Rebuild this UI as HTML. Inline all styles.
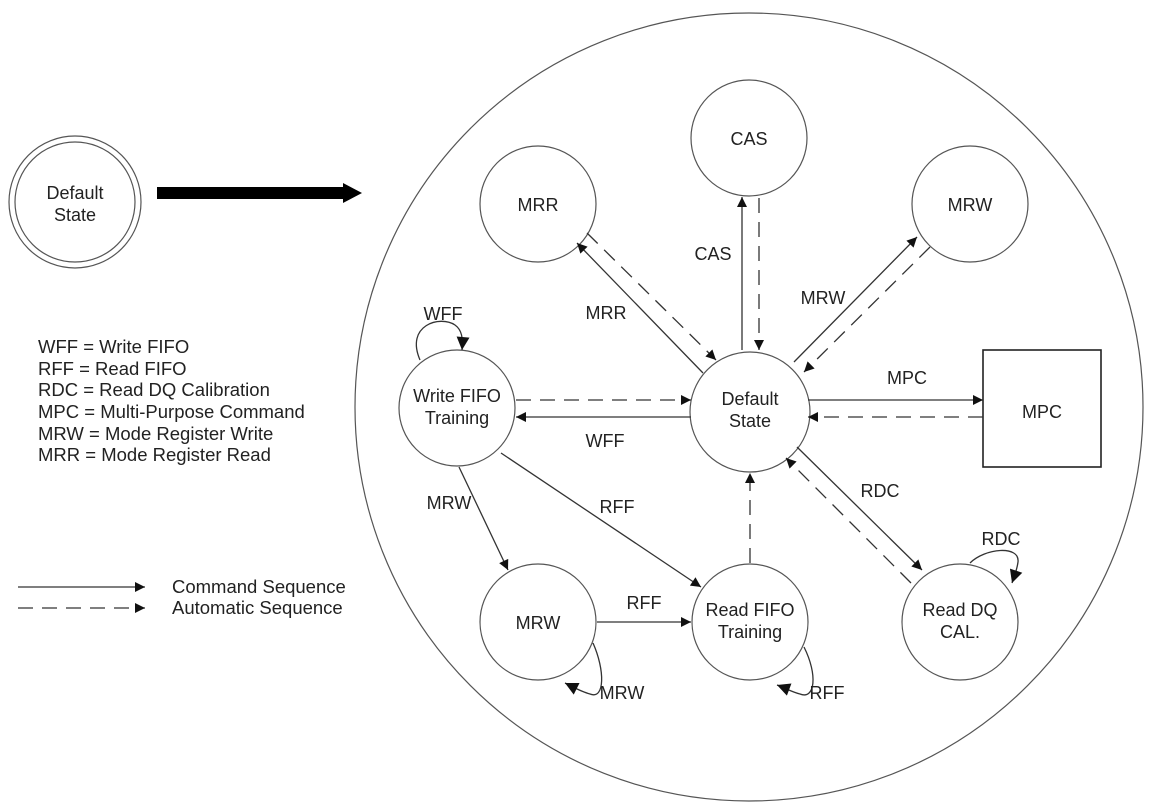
<!DOCTYPE html>
<html><head><meta charset="utf-8"><style>
html,body{margin:0;padding:0;background:#fff;}
svg{display:block;}
text{font-family:"Liberation Sans",Arial,sans-serif;font-size:18px;fill:#222;}
.lg{font-size:18.5px;}
</style></head><body>
<svg width="1153" height="809" viewBox="0 0 1153 809" xmlns="http://www.w3.org/2000/svg">
<defs>
<marker id="a" viewBox="0 0 10 10" refX="10" refY="5" markerWidth="11" markerHeight="10" markerUnits="userSpaceOnUse" orient="auto"><path d="M0,0 L10,5 L0,10 z" fill="#111"/></marker>
<marker id="b" viewBox="0 0 10 10" refX="10" refY="5" markerWidth="14" markerHeight="13" markerUnits="userSpaceOnUse" orient="auto"><path d="M0,0 L10,5 L0,10 z" fill="#111"/></marker>
</defs>
<g fill="none" stroke="#555" stroke-width="1.2">
<circle cx="749" cy="407" r="394"/>
<circle cx="75" cy="202" r="66"/>
<circle cx="75" cy="202" r="60"/>
<circle cx="749" cy="138" r="58"/>
<circle cx="538" cy="204" r="58"/>
<circle cx="970" cy="204" r="58"/>
<circle cx="750" cy="412" r="60"/>
<circle cx="457" cy="408" r="58"/>
<circle cx="538" cy="622" r="58"/>
<circle cx="750" cy="622" r="58"/>
<circle cx="960" cy="622" r="58"/>
</g>
<rect x="983" y="350" width="118" height="117" fill="none" stroke="#222" stroke-width="1.6"/>
<rect x="157" y="187" width="188" height="12" fill="#000"/>
<path d="M343,183 L362,193 L343,203 z" fill="#000"/>
<g fill="none" stroke="#333" stroke-width="1.3">
<line x1="742" y1="350" x2="742" y2="197" marker-end="url(#a)"/>
<line x1="703" y1="373" x2="577" y2="243" marker-end="url(#a)"/>
<line x1="794" y1="362" x2="917" y2="237" marker-end="url(#a)"/>
<line x1="691" y1="417" x2="516" y2="417" marker-end="url(#a)"/>
<line x1="808" y1="400" x2="983" y2="400" marker-end="url(#a)"/>
<line x1="459" y1="467" x2="508" y2="570" marker-end="url(#a)"/>
<line x1="501" y1="453" x2="701" y2="587" marker-end="url(#a)"/>
<line x1="797" y1="447" x2="922" y2="570" marker-end="url(#a)"/>
<line x1="597" y1="622" x2="691" y2="622" marker-end="url(#a)"/>
<line x1="18" y1="587" x2="145" y2="587" marker-end="url(#a)"/>
<g stroke-dasharray="15,9">
<line x1="759" y1="198" x2="759" y2="350" marker-end="url(#a)"/>
<line x1="587" y1="233" x2="716" y2="360" marker-end="url(#a)"/>
<line x1="930" y1="247" x2="804" y2="372" marker-end="url(#a)"/>
<line x1="516" y1="400" x2="691" y2="400" marker-end="url(#a)"/>
<line x1="983" y1="417" x2="808" y2="417" marker-end="url(#a)"/>
<line x1="750" y1="563" x2="750" y2="473" marker-end="url(#a)"/>
<line x1="911" y1="583" x2="786" y2="458" marker-end="url(#a)"/>
<line x1="18" y1="608" x2="145" y2="608" marker-end="url(#a)"/>
</g>
<path d="M420,360 C405,325 440,315 455,325 C462,330 463,338 462,350" marker-end="url(#b)"/>
<path d="M593,643 C605,670 605,700 590,694 C582,692 575,688 565,683" marker-end="url(#b)"/>
<path d="M804,647 C818,675 815,700 800,694 C792,692 785,688 777,685" marker-end="url(#b)"/>
<path d="M970,563 C985,548 1020,545 1018,562 C1017,570 1014,577 1012,583" marker-end="url(#b)"/>
</g>
<g text-anchor="middle">
<text x="75" y="199">Default</text><text x="75" y="221">State</text>
<text x="749" y="145">CAS</text>
<text x="538" y="211">MRR</text>
<text x="970" y="211">MRW</text>
<text x="750" y="405">Default</text><text x="750" y="427">State</text>
<text x="457" y="402">Write FIFO</text><text x="457" y="424">Training</text>
<text x="1042" y="418">MPC</text>
<text x="538" y="629">MRW</text>
<text x="750" y="616">Read FIFO</text><text x="750" y="638">Training</text>
<text x="960" y="616">Read DQ</text><text x="960" y="638">CAL.</text>
<text x="713" y="260">CAS</text>
<text x="606" y="319">MRR</text>
<text x="823" y="304">MRW</text>
<text x="443" y="320">WFF</text>
<text x="907" y="384">MPC</text>
<text x="605" y="447">WFF</text>
<text x="449" y="509">MRW</text>
<text x="617" y="513">RFF</text>
<text x="880" y="497">RDC</text>
<text x="1001" y="545">RDC</text>
<text x="644" y="609">RFF</text>
<text x="622" y="699">MRW</text>
<text x="827" y="699">RFF</text>
</g>
<g class="lg">
<text class="lg" x="38" y="353">WFF = Write FIFO</text>
<text class="lg" x="38" y="375">RFF = Read FIFO</text>
<text class="lg" x="38" y="396">RDC = Read DQ Calibration</text>
<text class="lg" x="38" y="418">MPC = Multi-Purpose Command</text>
<text class="lg" x="38" y="440">MRW = Mode Register Write</text>
<text class="lg" x="38" y="461">MRR = Mode Register Read</text>
<text class="lg" x="172" y="593">Command Sequence</text>
<text class="lg" x="172" y="614">Automatic Sequence</text>
</g>
</svg>
</body></html>
